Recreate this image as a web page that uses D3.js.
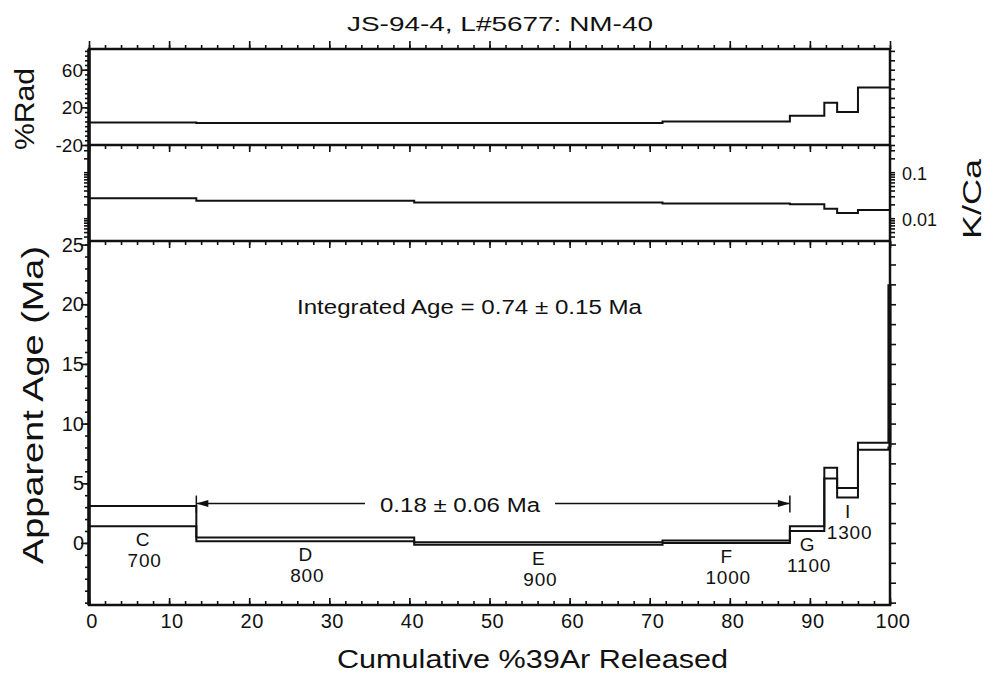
<!DOCTYPE html>
<html>
<head>
<meta charset="utf-8">
<script src="https://cdn.jsdelivr.net/npm/d3@7"></script>
<style>
  body { margin: 0; background: #fff; }
  text { font-family: "Liberation Sans", Arial, sans-serif; fill: #111; }
</style>
</head>
<body>
<script>
// heating steps
var steps    = ["C", "D", "E", "F", "G", "H", "I", "J", "K"];
var temps    = [700, 800, 900, 1000, 1100, 1200, 1300, 1400, 1650];
var showLbl  = [true, true, true, true, true, false, true, false, false];
var cumStart = [0, 13.4, 40.6, 71.6, 87.5, 91.8, 93.4, 96.0, 99.8];
var cumEnd   = [13.4, 40.6, 71.6, 87.5, 91.8, 93.4, 96.0, 99.8, 100];
var ageLo    = [1.4, 0.15, -0.15, 0.0, 1.0, 5.4, 3.8, 7.8, 8.0];
var ageHi    = [3.1, 0.45, 0.05, 0.2, 1.4, 6.3, 4.6, 8.4, 21.6];
var radPct   = [4, 3.5, 3.5, 5, 11, 25, 15, 41, 41];
var kca      = [0.027, 0.024, 0.022, 0.021, 0.020, 0.016, 0.013, 0.015, 0.015];

var plateau = { from: 13.4, to: 87.5, y: 3.3, label: "0.18 \u00b1 0.06 Ma" };
var integrated = "Integrated Age = 0.74 \u00b1 0.15 Ma";

var xTicks = d3.range(0, 101, 10);
var radTicks = [60, 20, -20];
var kcaTicks = [0.1, 0.01];
var ageTicks = [0, 5, 10, 15, 20, 25];

var width = 997, height = 673;
var X0 = 89, X1 = 890;

var svg = d3.select("body").append("svg")
  .attr("width", width)
  .attr("height", height);

var x = d3.scaleLinear().domain([0, 100]).range([X0, X1]);
var yRad = d3.scaleLinear().domain([-20, 82]).range([145, 49]);
var yK = d3.scaleLog().domain([0.0032, 0.39]).range([241, 145]);
var yAge = d3.scaleLinear().domain([-5.2, 25.3]).range([605, 241]);

// stretched text, the original font runs wide
function wideText(sel, len) {
  return sel.attr("textLength", len).attr("lengthAdjust", "spacingAndGlyphs");
}

// title
wideText(svg.append("text")
  .attr("x", 347).attr("y", 31)
  .style("font-size", "21px")
  .text("JS-94-4, L#5677:  NM-40"), 306);

// helper: tick axis with no labels
function ticksOnly(axis, g) {
  g.call(axis);
  g.select(".domain").remove();
  g.selectAll("line").attr("stroke", "#111").attr("stroke-width", 1.6);
  g.selectAll("text").remove();
}

var minorX = d3.range(0, 101, 2);

// top axis (outward)
ticksOnly(d3.axisTop(x).tickValues(minorX).tickSize(4), svg.append("g").attr("transform", "translate(0,49)"));
ticksOnly(d3.axisTop(x).tickValues(xTicks).tickSize(8), svg.append("g").attr("transform", "translate(0,49)"));
// dividers, ticks pointing down
[145, 241].forEach(function (yy) {
  ticksOnly(d3.axisBottom(x).tickValues(minorX).tickSize(4), svg.append("g").attr("transform", "translate(0," + yy + ")"));
  ticksOnly(d3.axisBottom(x).tickValues(xTicks).tickSize(7), svg.append("g").attr("transform", "translate(0," + yy + ")"));
});
// bottom axis: ticks up and labels below
ticksOnly(d3.axisTop(x).tickValues(minorX).tickSize(4), svg.append("g").attr("transform", "translate(0,605)"));
ticksOnly(d3.axisTop(x).tickValues(xTicks).tickSize(7), svg.append("g").attr("transform", "translate(0,605)"));
svg.append("g").selectAll("text")
  .data(xTicks).enter().append("text")
  .attr("x", function (d) { return x(d) + 3; })
  .attr("y", 628)
  .style("font-size", "20px")
  .style("letter-spacing", "0.5px")
  .style("text-anchor", "middle")
  .text(function (d) { return d; });

// left / right ticks
ticksOnly(d3.axisLeft(yRad).tickValues(d3.range(-20, 81, 5)).tickSize(4), svg.append("g").attr("transform", "translate(" + X0 + ",0)"));
ticksOnly(d3.axisLeft(yRad).tickValues(radTicks).tickSize(7), svg.append("g").attr("transform", "translate(" + X0 + ",0)"));
ticksOnly(d3.axisRight(yRad).tickValues(d3.range(-20, 81, 10)).tickSize(5), svg.append("g").attr("transform", "translate(" + X1 + ",0)"));
var kMinor = [];
[0.001, 0.01, 0.1].forEach(function (p) { for (var k = 1; k < 10; k++) { var v = p * k; if (v > 0.0032 && v < 0.39) kMinor.push(v); } });
ticksOnly(d3.axisLeft(yK).tickValues(kMinor).tickSize(5), svg.append("g").attr("transform", "translate(" + X0 + ",0)"));
ticksOnly(d3.axisRight(yK).tickValues(kMinor).tickSize(5), svg.append("g").attr("transform", "translate(" + X1 + ",0)"));
ticksOnly(d3.axisLeft(yAge).tickValues(d3.range(-5, 26, 1)).tickSize(4), svg.append("g").attr("transform", "translate(" + X0 + ",0)"));
ticksOnly(d3.axisLeft(yAge).tickValues(ageTicks).tickSize(8), svg.append("g").attr("transform", "translate(" + X0 + ",0)"));
ticksOnly(d3.axisRight(yAge).tickValues(d3.range(-5, 25.3, 5 / 3)).tickSize(6), svg.append("g").attr("transform", "translate(" + X1 + ",0)"));

// y tick labels
svg.append("g").selectAll("text").data(radTicks).enter().append("text")
  .attr("x", 83).attr("y", function (d) { return yRad(d) + 7; })
  .style("font-size", "19px").style("text-anchor", "end")
  .text(function (d) { return d; });
svg.append("g").selectAll("text").data(ageTicks).enter().append("text")
  .attr("x", 84).attr("y", function (d) { return yAge(d) + 7; })
  .style("font-size", "20px").style("text-anchor", "end")
  .text(function (d) { return d; });
svg.append("g").selectAll("text").data(kcaTicks).enter().append("text")
  .attr("x", 902).attr("y", function (d) { return yK(d) + 8; })
  .style("font-size", "18px").style("text-anchor", "start")
  .text(function (d) { return d; });

// frame
svg.append("rect")
  .attr("x", X0).attr("y", 49)
  .attr("width", X1 - X0).attr("height", 605 - 49)
  .attr("fill", "none").attr("stroke", "#111").attr("stroke-width", 2.5);
[145, 241].forEach(function (yy) {
  svg.append("line").attr("x1", X0).attr("x2", X1).attr("y1", yy).attr("y2", yy)
    .attr("stroke", "#111").attr("stroke-width", 2.5);
});
svg.append("line").attr("x1", X0).attr("x2", X0).attr("y1", 49).attr("y2", 605)
  .attr("stroke", "#111").attr("stroke-width", 3.5);

// step series helper
var idx = d3.range(steps.length);
function stepPath(vals, ys) {
  var pts = [];
  idx.forEach(function (i) {
    pts.push([x(cumStart[i]), ys(vals[i])]);
    pts.push([x(cumEnd[i]), ys(vals[i])]);
  });
  return d3.line()(pts);
}

// %Rad
svg.append("path").attr("d", stepPath(radPct, yRad))
  .attr("fill", "none").attr("stroke", "#111").attr("stroke-width", 2);
// K/Ca
svg.append("path").attr("d", stepPath(kca, yK))
  .attr("fill", "none").attr("stroke", "#111").attr("stroke-width", 2);

// age spectrum: top and bottom stair lines plus outer edges
svg.append("path").attr("d", stepPath(ageHi, yAge))
  .attr("fill", "none").attr("stroke", "#111").attr("stroke-width", 2);
svg.append("path").attr("d", stepPath(ageLo, yAge))
  .attr("fill", "none").attr("stroke", "#111").attr("stroke-width", 2);
var last = steps.length - 1;
svg.append("line")
  .attr("x1", x(cumStart[0])).attr("x2", x(cumStart[0]))
  .attr("y1", yAge(ageLo[0])).attr("y2", yAge(ageHi[0]))
  .attr("stroke", "#111").attr("stroke-width", 2);
svg.append("line")
  .attr("x1", x(cumEnd[last])).attr("x2", x(cumEnd[last]))
  .attr("y1", yAge(ageLo[last])).attr("y2", yAge(ageHi[last]))
  .attr("stroke", "#111").attr("stroke-width", 3);

// step labels
var lbl = svg.append("g").selectAll("g")
  .data(idx.filter(function (i) { return showLbl[i]; }))
  .enter().append("g");
lbl.append("text")
  .attr("x", function (i) { return x((cumStart[i] + cumEnd[i]) / 2); })
  .attr("y", function (i) { return yAge(ageLo[i]) + 20; })
  .style("font-size", "19px").style("text-anchor", "middle")
  .text(function (i) { return steps[i]; });
lbl.append("text")
  .attr("x", function (i) { return x((cumStart[i] + cumEnd[i]) / 2) + 2; })
  .attr("y", function (i) { return yAge(ageLo[i]) + 41; })
  .style("font-size", "19px").style("letter-spacing", "0.8px").style("text-anchor", "middle")
  .text(function (i) { return temps[i]; });

// plateau bar
var py = yAge(plateau.y);
var px0 = x(plateau.from), px1 = x(plateau.to);
var mid = 460;
svg.append("line").attr("x1", px0).attr("x2", mid - 95).attr("y1", py).attr("y2", py)
  .attr("stroke", "#111").attr("stroke-width", 1.5);
svg.append("line").attr("x1", mid + 95).attr("x2", px1).attr("y1", py).attr("y2", py)
  .attr("stroke", "#111").attr("stroke-width", 1.5);
[[px0, 1], [px1, -1]].forEach(function (e) {
  svg.append("line").attr("x1", e[0]).attr("x2", e[0]).attr("y1", py - 8).attr("y2", py + 9)
    .attr("stroke", "#111").attr("stroke-width", 1.5);
  svg.append("path")
    .attr("d", "M" + e[0] + "," + py + "L" + (e[0] + e[1] * 12) + "," + (py - 3.5) + "L" + (e[0] + e[1] * 12) + "," + (py + 3.5) + "Z")
    .attr("fill", "#111");
});
wideText(svg.append("text")
  .attr("x", mid - 80).attr("y", py + 8)
  .style("font-size", "20px")
  .text(plateau.label), 160);

wideText(svg.append("text")
  .attr("x", 297).attr("y", 314)
  .style("font-size", "20px")
  .text(integrated), 345);

// axis titles
wideText(svg.append("text")
  .attr("transform", "translate(34,109) rotate(-90)")
  .attr("x", -41)
  .style("font-size", "28px")
  .text("%Rad"), 82);
wideText(svg.append("text")
  .attr("transform", "translate(43,405) rotate(-90)")
  .attr("x", -159)
  .style("font-size", "30px")
  .text("Apparent Age (Ma)"), 318);
wideText(svg.append("text")
  .attr("transform", "translate(981,199) rotate(-90)")
  .attr("x", -40)
  .style("font-size", "25px")
  .text("K/Ca"), 80);
wideText(svg.append("text")
  .attr("x", 337).attr("y", 668)
  .style("font-size", "26px")
  .text("Cumulative %39Ar Released"), 391);
</script>
</body>
</html>
